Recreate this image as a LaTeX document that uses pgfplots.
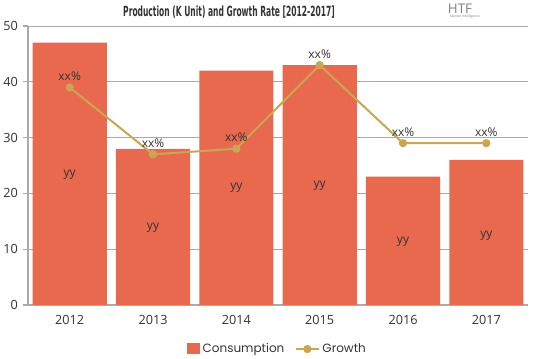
\documentclass[border=0pt]{standalone}
\usepackage{pgfplots}
\pgfplotsset{compat=1.18}
\usepackage{graphicx}
\usepackage{fontspec}
\setmainfont{Open Sans}
\newfontfamily\titlefont{DejaVu Sans Condensed}
\newfontfamily\legfont{Poppins}
\definecolor{barc}{HTML}{E8694E}
\definecolor{linec}{HTML}{C9A64F}
\definecolor{gridc}{HTML}{AAAAAA}
\definecolor{txt}{HTML}{333333}
\begin{document}
\begin{tikzpicture}[x=0.75pt,y=0.75pt]
\path[use as bounding box] (-28,-54) rectangle (511,305);
\begin{axis}[
  at={(0,0)}, anchor=south west,
  scale only axis, width=375pt, height=209.25pt,
  xmin=-0.5, xmax=5.5, ymin=0, ymax=50,
  xtick={0,1,2,3,4,5},
  xticklabels={2012,2013,2014,2015,2016,2017},
  ytick={0,10,20,30,40,50},
  ymajorgrids, grid style={gridc, line width=0.6pt},
  axis x line*=bottom, axis y line*=left,
  axis line style={gridc, line width=0.8pt},
  x axis line style={-}, y axis line style={-},
  major x tick style={draw=none},
  major y tick style={gridc, line width=0.8pt},
  tick align=outside, major tick length=4pt,
  tick label style={font=\fontsize{9.5}{11}\selectfont, text=txt},
  /pgf/number format/assume math mode=true,
  clip=false,
  legend style={at={(0.5,-0.158)}, anchor=center, draw=none, fill=none,
     font=\legfont\fontsize{9}{11}\selectfont\color{txt}, legend columns=2,
     /tikz/every even column/.append style={column sep=6pt}},
  legend cell align=left,
]
\addplot[ybar, bar width=0.89, fill=barc, draw=none, bar shift=0pt,
  legend image code/.code={\fill[barc] (0.05cm,-0.14cm) rectangle (0.38cm,0.17cm);}]
  coordinates {(0,47) (1,28) (2,42) (3,43) (4,23) (5,26)};
\addlegendentry{Consumption}
\addplot[linec, line width=1.5pt, mark=*, mark size=2.3pt, mark options={fill=linec, draw=linec},
  nodes near coords={xx\%},
  every node near coord/.append style={font=\fontsize{9}{10}\selectfont, text=txt, anchor=south, yshift=1pt}]
  coordinates {(0,39) (1,27) (2,28) (3,43) (4,29) (5,29)};
\addlegendentry{Growth}
\addplot[draw=none, mark=none, nodes near coords={yy},
  every node near coord/.append style={font=\fontsize{9}{10}\selectfont, text=txt, anchor=center}]
  coordinates {(0,23.3) (1,13.8) (2,21) (3,21.3) (4,11.3) (5,12.5)};
\end{axis}
\node[text=txt] at (201,293) {\scalebox{0.6}[1]{\titlefont\bfseries\fontsize{10.5}{11}\selectfont Production (K Unit) and Growth Rate [2012-2017]}};
\node[font=\fontsize{10}{10}\selectfont, text=gray] at (432,296) {HTF};
\node[font=\fontsize{2.5}{3}\selectfont, text=gray] at (437,288) {Market Intelligence};
\end{tikzpicture}
\end{document}
